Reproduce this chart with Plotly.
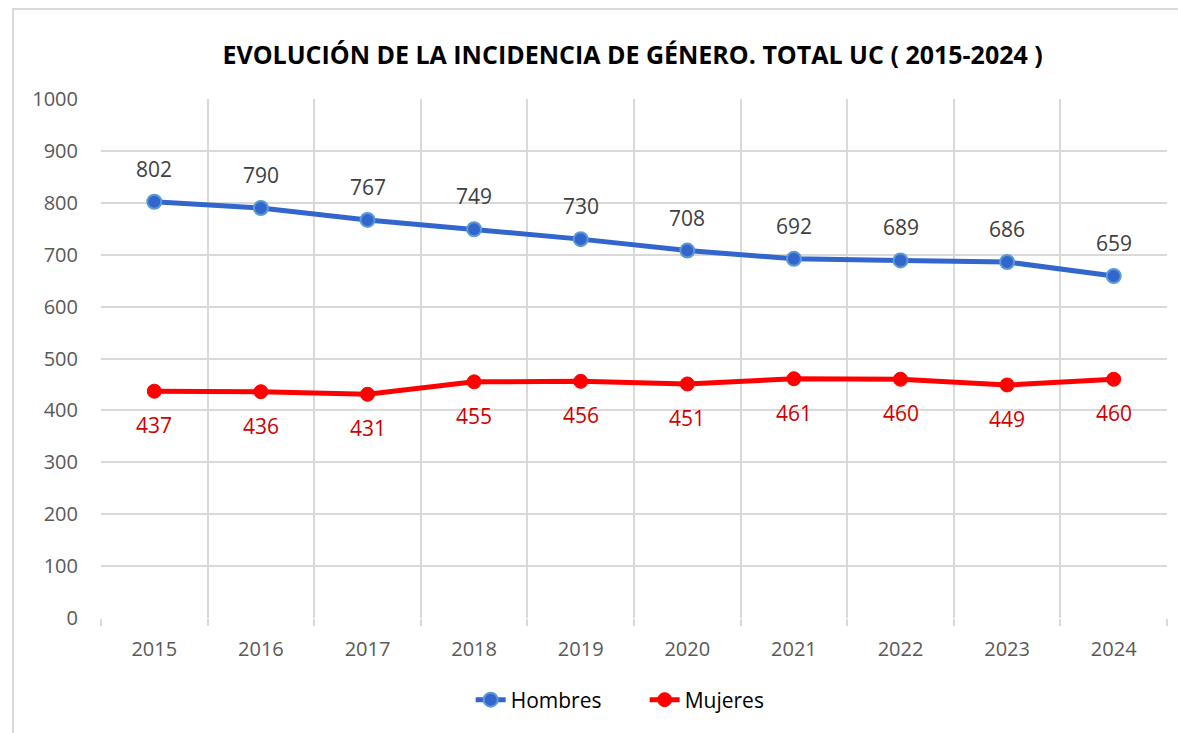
import plotly.graph_objects as go

years = ["2015", "2016", "2017", "2018", "2019", "2020", "2021", "2022", "2023", "2024"]
hombres = [802, 790, 767, 749, 730, 708, 692, 689, 686, 659]
mujeres = [437, 436, 431, 455, 456, 451, 461, 460, 449, 460]
y_ticks = list(range(0, 1001, 100))

FONT = "Open Sans"
xs = list(range(len(years)))

fig = go.Figure()
fig.add_trace(go.Scatter(
    x=xs, y=hombres, name="Hombres", mode="lines+markers",
    line=dict(color="#3366CC", width=5),
    marker=dict(size=14, color="#3366CC", line=dict(color="#5B9BD5", width=2)),
))
fig.add_trace(go.Scatter(
    x=xs, y=mujeres, name="Mujeres", mode="lines+markers",
    line=dict(color="#FF0000", width=5),
    marker=dict(size=14, color="#FF0000", line=dict(color="#FF0000", width=1)),
))

for xi, v in zip(xs, hombres):
    fig.add_annotation(x=xi, y=v, text=str(v), showarrow=False, yshift=33,
                       font=dict(family=FONT, size=21, color="#404040"))
for xi, v in zip(xs, mujeres):
    fig.add_annotation(x=xi, y=v, text=str(v), showarrow=False, yshift=-34,
                       font=dict(family=FONT, size=21, color="#D00000"))

# outer chart border (partially cropped)
fig.add_shape(type="rect", xref="paper", yref="paper",
              x0=-0.0826, x1=1.05, y0=-0.25, y1=1.1734,
              line=dict(color="#D9D9D9", width=2), layer="below")

fig.update_layout(
    width=1178, height=733,
    margin=dict(l=101, r=11, t=99, b=115),
    paper_bgcolor="white", plot_bgcolor="white",
    font=dict(family=FONT, size=20, color="#595959"),
    title=dict(text="<b>EVOLUCIÓN DE LA INCIDENCIA DE GÉNERO. TOTAL UC ( 2015-2024 )</b>",
               x=0.537, xanchor="center", y=1 - 55 / 733, yanchor="middle",
               font=dict(family=FONT, size=25, color="#000000")),
    showlegend=True,
    legend=dict(orientation="h", x=0.510, xanchor="center", y=-0.158, yanchor="middle",
                font=dict(family=FONT, size=21, color="#000000"),
                entrywidth=129, entrywidthmode="pixels",
                bgcolor="rgba(0,0,0,0)"),
    xaxis=dict(
        range=[-0.5, len(years) - 0.5],
        tickmode="array", tickvals=xs, ticktext=years,
        showgrid=False, zeroline=False, showline=False, ticks="",
        ticklabelstandoff=17,
        minor=dict(tick0=-0.5, dtick=1, showgrid=True, gridcolor="#D9D9D9", gridwidth=2,
                   ticks="outside", ticklen=7, tickcolor="#D9D9D9", tickwidth=2),
        fixedrange=True,
    ),
    yaxis=dict(
        range=[0, 1000], tickmode="array", tickvals=y_ticks,
        showgrid=True, gridcolor="#D9D9D9", gridwidth=2,
        zeroline=False, showline=False, ticks="", ticklabelstandoff=22,
        fixedrange=True,
    ),
)

fig.write_html("out.html", config={"displayModeBar": False},
               post_script="document.body.style.margin='0';document.body.style.padding='0';")
